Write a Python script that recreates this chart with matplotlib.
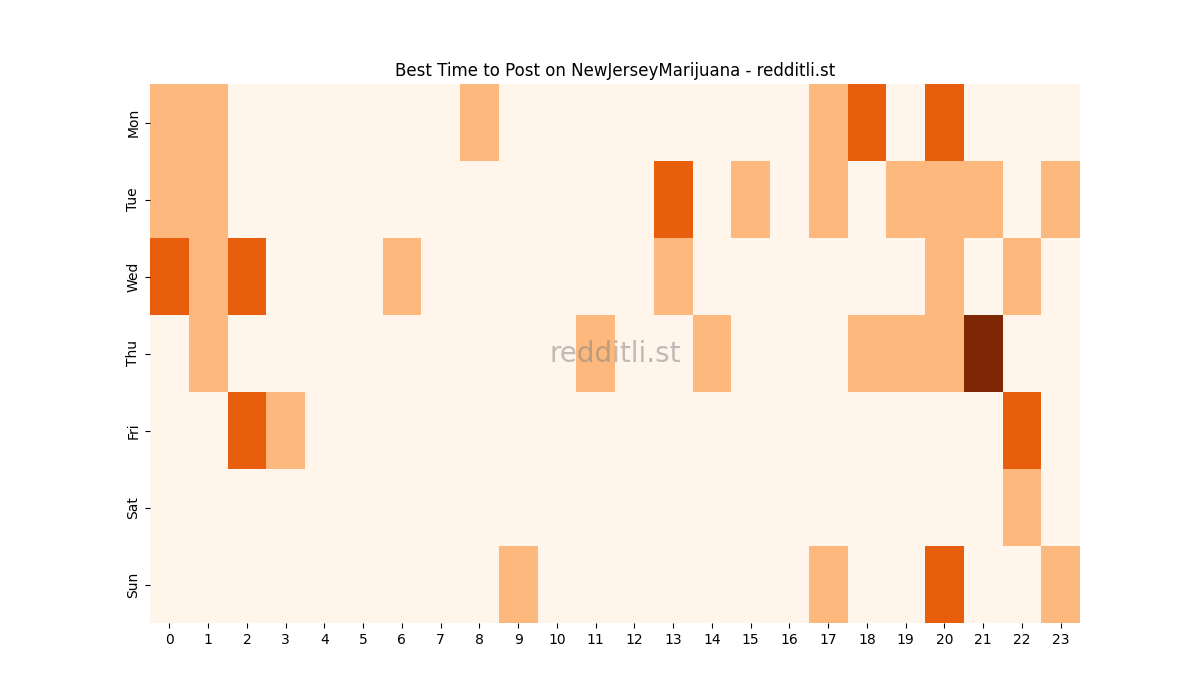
import matplotlib
matplotlib.use("Agg")
import matplotlib.pyplot as plt
import numpy as np
import seaborn as sns

days = ["Mon", "Tue", "Wed", "Thu", "Fri", "Sat", "Sun"]
hours = list(range(24))

# post counts per hour, one list per day
mon = [1, 1, 0, 0, 0, 0, 0, 0, 1, 0, 0, 0, 0, 0, 0, 0, 0, 1, 2, 0, 2, 0, 0, 0]
tue = [1, 1, 0, 0, 0, 0, 0, 0, 0, 0, 0, 0, 0, 2, 0, 1, 0, 1, 0, 1, 1, 1, 0, 1]
wed = [2, 1, 2, 0, 0, 0, 1, 0, 0, 0, 0, 0, 0, 1, 0, 0, 0, 0, 0, 0, 1, 0, 1, 0]
thu = [0, 1, 0, 0, 0, 0, 0, 0, 0, 0, 0, 1, 0, 0, 1, 0, 0, 0, 1, 1, 1, 3, 0, 0]
fri = [0, 0, 2, 1, 0, 0, 0, 0, 0, 0, 0, 0, 0, 0, 0, 0, 0, 0, 0, 0, 0, 0, 2, 0]
sat = [0, 0, 0, 0, 0, 0, 0, 0, 0, 0, 0, 0, 0, 0, 0, 0, 0, 0, 0, 0, 0, 0, 1, 0]
sun = [0, 0, 0, 0, 0, 0, 0, 0, 0, 1, 0, 0, 0, 0, 0, 0, 0, 1, 0, 0, 2, 0, 0, 1]

counts = np.array([mon, tue, wed, thu, fri, sat, sun])

fig, ax = plt.subplots(figsize=(12, 7), dpi=100)
sns.heatmap(counts, cmap="Oranges", cbar=False, ax=ax,
            xticklabels=hours, yticklabels=days)
ax.set_yticklabels(days, rotation=90, va="center")
ax.set_title("Best Time to Post on NewJerseyMarijuana - redditli.st")
ax.text(0.5, 0.5, "redditli.st", transform=ax.transAxes, ha="center", va="center",
        fontsize=20, color="gray", alpha=0.5)

plt.savefig("out.png", dpi=100)
plt.close()
